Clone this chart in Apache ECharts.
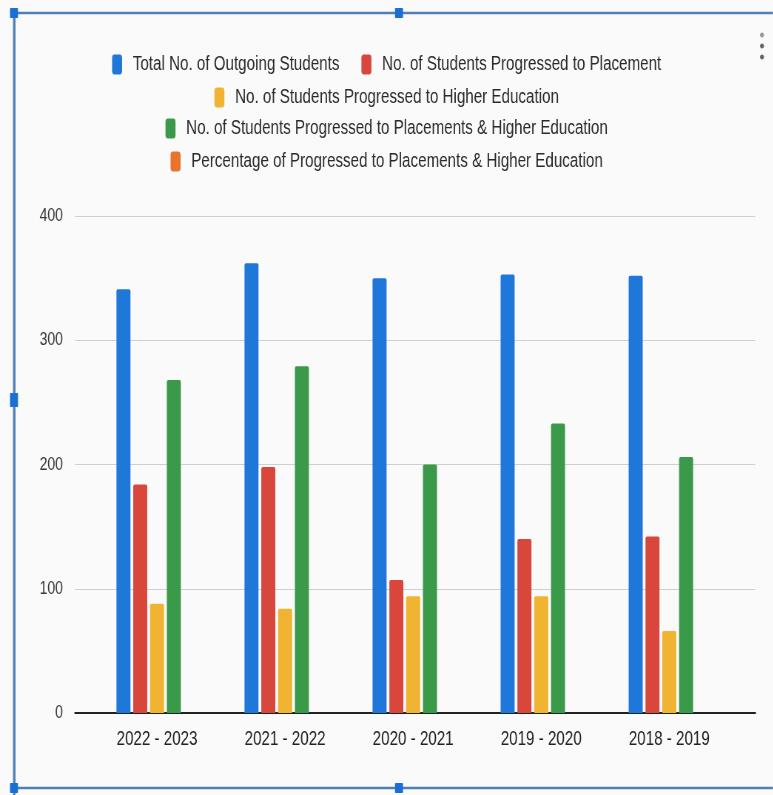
<!DOCTYPE html>
<html><head><meta charset="utf-8">
<script src="https://cdn.jsdelivr.net/npm/echarts@6/dist/echarts.min.js"></script>
<style>html,body{margin:0;padding:0;background:#fafafa;overflow:hidden;width:773px;height:795px}#c{height:795px;transform-origin:0 0}</style>
</head><body><div id="c"></div>
<script>
const categories = ['2022 - 2023','2021 - 2022','2020 - 2021','2019 - 2020','2018 - 2019'];
const totalOutgoing = [341, 362, 350, 353, 352];
const placement = [184, 198, 107, 140, 142];
const higherEdu = [88, 84, 94, 94, 66];
const placementHigherEdu = [268, 279, 200, 233, 206];
const percentage = [null, null, null, null, null];
const yTicks = [0, 100, 200, 300, 400];

const names = ['Total No. of Outgoing Students','No. of Students Progressed to Placement','No. of Students Progressed to Higher Education','No. of Students Progressed to Placements & Higher Education','Percentage of Progressed to Placements & Higher Education'];
const colors = ['#1e77d9','#d9463b','#f0b432','#3a9a4a','#e8732c'];
const FONT = "'Liberation Sans',Arial,sans-serif";

// the reference text looks horizontally condensed; draw wider and squeeze with CSS
const S = 0.74;
const X = v => v / S;
const el = document.getElementById('c');
el.style.width = X(773) + 'px';
el.style.transform = 'scaleX(' + S + ')';

const chart = echarts.init(el);
const mkLegend = (data, top) => ({
  data, left: 'center', top, itemWidth: X(10), itemHeight: 20, itemGap: X(22), icon: 'roundRect',
  padding: [0, 0, 0, X(24)],
  textStyle: {fontFamily: FONT, fontSize: 20.5, color: '#2a2a2a', padding: [0, 0, 0, X(7)]}, selectedMode: false
});
const seriesData = [totalOutgoing, placement, higherEdu, placementHigherEdu, percentage];
const frame = '#4f7fb3', handle = '#1a6fd6';
chart.setOption({
  backgroundColor: '#fafafa',
  animation: false,
  color: colors,
  legend: [
    mkLegend([names[0], names[1]], 54),
    mkLegend([names[2]], 87),
    mkLegend([names[3]], 118),
    mkLegend([names[4]], 151)
  ],
  grid: [
    {left: X(75), right: X(18), top: 216, bottom: 82},
    {left: X(93), right: X(40), top: 216, bottom: 82}
  ],
  xAxis: [
    {gridIndex: 0, type: 'value', min: 0, max: 1, axisLabel: {show: false}, axisTick: {show: false}, splitLine: {show: false},
     axisLine: {show: true, onZero: false, lineStyle: {color: '#222', width: 2}}},
    {gridIndex: 1, type: 'category', data: categories, axisLine: {show: false}, axisTick: {show: false},
     axisLabel: {margin: 16, fontFamily: FONT, fontSize: 20.5, color: '#222'}}
  ],
  yAxis: [
    {gridIndex: 0, type: 'value', min: yTicks[0], max: yTicks[yTicks.length-1], interval: 100,
     axisLine: {show: false}, axisTick: {show: false},
     axisLabel: {margin: X(12), fontFamily: FONT, fontSize: 19, color: '#3a3a3a'},
     splitLine: {lineStyle: {color: '#cfcfcf', width: 1}}},
    {gridIndex: 1, type: 'value', min: 0, max: 400, interval: 100, show: false}
  ],
  series: seriesData.map((d, i) => ({
    name: names[i], type: 'bar', xAxisIndex: 1, yAxisIndex: 1, data: d,
    barWidth: X(14), barGap: '20%', itemStyle: {borderRadius: [2,2,0,0]}
  })),
  graphic: [
    {type: 'line', shape: {x1: X(14), y1: 13, x2: X(773), y2: 13}, style: {stroke: frame, lineWidth: 2.5}},
    {type: 'rect', shape: {x: X(13), y: 12, width: X(2.5), height: 783}, style: {fill: frame}},
    {type: 'line', shape: {x1: X(14), y1: 788, x2: X(773), y2: 788}, style: {stroke: frame, lineWidth: 2.5}},
    {type: 'rect', shape: {x: X(10), y: 8, width: X(8), height: 10, r: 1}, style: {fill: handle}},
    {type: 'rect', shape: {x: X(395), y: 8, width: X(8), height: 10, r: 1}, style: {fill: handle}},
    {type: 'rect', shape: {x: X(10), y: 393, width: X(8), height: 14, r: 1}, style: {fill: handle}},
    {type: 'rect', shape: {x: X(10), y: 783, width: X(8), height: 10, r: 1}, style: {fill: handle}},
    {type: 'rect', shape: {x: X(395), y: 783, width: X(8), height: 10, r: 1}, style: {fill: handle}},
    {type: 'ellipse', shape: {cx: X(762), cy: 35, rx: X(2), ry: 2.5}, style: {fill: '#999'}},
    {type: 'ellipse', shape: {cx: X(762), cy: 46, rx: X(2), ry: 2.5}, style: {fill: '#666'}},
    {type: 'ellipse', shape: {cx: X(762), cy: 57, rx: X(2), ry: 2.5}, style: {fill: '#666'}}
  ]
});
</script></body></html>
